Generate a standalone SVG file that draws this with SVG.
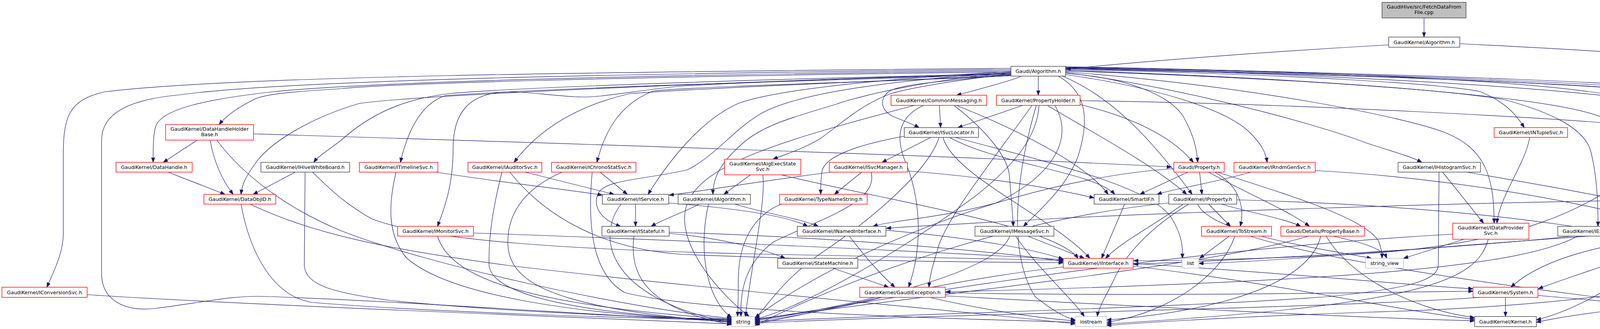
<svg xmlns="http://www.w3.org/2000/svg" width="5247" height="843" viewBox="0 0 5247 843">
<defs>
<marker id="arr" markerWidth="13" markerHeight="10" refX="12" refY="4.5" orient="auto" markerUnits="userSpaceOnUse"><path d="M0,0 L12,4.5 L0,9 z" fill="#191970" stroke="#191970" stroke-width="1"/></marker>
</defs>
<style>
.nd rect{fill:#ffffff;stroke-width:1.4}
.k rect{stroke:#404040}
.r rect{stroke:#ff0000}
.g rect{stroke:#bfbfbf}
.rt rect{fill:#bfbfbf;stroke:#404040}
text{font-family:"DejaVu Sans","Liberation Sans",Arial,sans-serif;font-size:12.8px;text-anchor:middle;fill:#000000}
#edges path{fill:none;stroke:#191970;stroke-width:1.2;marker-end:url(#arr)}
</style>
<rect x="0" y="0" width="5247" height="843" fill="#ffffff"/>
<g id="edges">
<path d="M3645.5,46 L3645.5,95"/>
<path d="M3555,115 C3200,135 2900,160 2729,177"/>
<path d="M3737,112 C4100,130 4450,150 4560,185 C4680,220 4704,240 4704,270 L4704,360 C4704,400 4730,430 4770,455 C4830,485 4880,493 4910,498"/>
<path d="M2588,175 C1500,185 600,195 270,235 C175,255 162,300 162,400 L162,600 C162,650 135,700 120,736"/>
<path d="M2588,178 C1400,190 700,210 460,243 C330,255 260,290 260,360 L260,700 C260,770 320,800 400,790 C520,775 600,755 690,760 C1000,770 1600,812 1873,824"/>
<path d="M2588,181 C1400,195 900,215 700,235 C520,255 420,280 400,320 C392,340 392,380 392,416"/>
<path d="M2588,184 C1500,198 1000,215 875,227 C750,235 680,240 650,255 C610,275 580,295 561,319"/>
<path d="M2588,187 C1900,210 1100,240 920,265 C800,300 700,360 660,410 C630,450 620,470 617,498"/>
<path d="M2588,190 C2000,200 1300,225 1150,240 C1020,255 940,300 875,358 C840,385 815,400 803,416"/>
<path d="M2589,192 C2100,205 1400,225 1140,245 C1080,265 1045,330 1025,416"/>
<path d="M2589,193 C2300,206 1800,225 1612,240 C1480,270 1380,330 1316,416"/>
<path d="M2590,194 C2400,205 1800,220 1673,233 C1590,265 1550,330 1528,416"/>
<path d="M2588,189 C2200,200 1900,212 1750,220 C1620,232 1540,252 1472,248 C1380,242 1330,232 1277,237 C1200,245 1160,290 1160,380 C1160,480 1135,540 1120,580"/>
<path d="M2588,183 C2300,200 2000,225 1890,265 C1800,305 1720,400 1659,498"/>
<path d="M2588,185 C2300,205 2050,235 1950,290 C1880,330 1830,400 1760,435 C1650,460 1560,460 1535,490 C1515,520 1530,560 1589,580"/>
<path d="M2588,187 C2400,200 2200,245 2141,267 C2030,300 1960,320 1910,360 C1850,410 1825,450 1825,498"/>
<path d="M2588,189 C2450,205 2330,225 2280,240 C2200,270 2150,320 2100,355 C2050,385 2010,395 1979,408"/>
<path d="M2588,191 C2450,205 2300,215 2275,235 C2250,255 2255,285 2290,300 C2320,312 2340,320 2353,327"/>
<path d="M2613,196 C2580,210 2500,230 2449,244"/>
<path d="M2658,195 L2658,244"/>
<path d="M2728,188 C2900,200 3000,250 3030,300 C3055,345 3064,380 3066,416"/>
<path d="M2728,191 C3000,230 3150,290 3200,340 C3230,370 3240,390 3244,416"/>
<path d="M2709,195 C2790,240 2785,320 2760,400 C2730,480 2660,540 2620,580"/>
<path d="M2720,195 C2850,250 2950,360 3052,498"/>
<path d="M2728,174 C3200,185 3800,210 4134,248"/>
<path d="M2728,178 C3300,190 3700,215 3790,235 C3850,260 3880,290 3902,327"/>
<path d="M2728,186 C3000,220 3350,310 3500,367 C3570,390 3610,400 3640,416"/>
<path d="M2728,184 C3200,220 3600,300 3700,340 C3800,380 3825,450 3825,572"/>
<path d="M2728,180 C3300,200 3700,230 3850,255 C3980,290 4050,330 4070,380 C4085,430 4091,500 4091,580"/>
<path d="M2728,176 C3400,190 4200,215 4310,245 C4330,300 4270,370 4231,416"/>
<path d="M2728,175 C3500,190 4250,220 4340,250 C4370,290 4350,400 4318,498"/>
<path d="M2728,173 C3600,190 4300,220 4400,245 C4430,270 4436,300 4436,350 L4436,490 C4436,530 4400,560 4345,580"/>
<path d="M2728,172 C3600,188 4350,215 4480,245 C4530,270 4540,310 4540,360 L4540,420 C4540,520 4400,580 4200,650 C4050,700 3990,720 3938,740"/>
<path d="M2728,171 C3800,190 4100,230 4200,260 C4300,300 4350,318 4375,322 C4600,330 4800,330 5000,380 C5150,430 5195,470 5195,540 L5195,690 C5195,760 5000,805 4715,822"/>
<path d="M2728,182 C3300,200 3950,240 4100,300 C4250,340 4380,380 4500,420 C4600,450 4700,480 4732,498"/>
<path d="M2405,270 L2408,327"/>
<path d="M2442,270 C2520,330 2580,400 2584,450 C2588,500 2592,540 2594,580"/>
<path d="M2448,270 C2600,330 2780,420 2837,498"/>
<path d="M2364,270 C2300,300 2290,350 2320,420 C2360,520 2360,640 2326,736"/>
<path d="M2341,270 C2000,360 1800,420 1760,520 C1720,620 1850,760 1918,811"/>
<path d="M2618,270 L2452,327"/>
<path d="M2765,268 C2900,300 3000,350 3055,416"/>
<path d="M2765,258 C3300,265 4000,300 4375,337 C4700,365 4950,400 5100,470 C5230,520 5243,560 5243,620 L5243,700 C5243,780 5000,810 4715,828"/>
<path d="M2681,270 C2780,330 2950,420 3038,498"/>
<path d="M2642,270 C2550,400 2420,560 2400,640 C2385,690 2380,710 2378,736"/>
<path d="M2660,270 C2655,350 2600,420 2500,500 C2300,650 2050,790 1933,818"/>
<path d="M2653,270 C2600,450 2580,650 2650,760 C2700,800 2730,815 2753,820"/>
<path d="M2700,270 C2750,350 2700,450 2550,520 C2400,560 2280,565 2235,580"/>
<path d="M505,359 L418,416"/>
<path d="M538,359 C545,400 560,450 597,498"/>
<path d="M649,343 C1200,360 2500,400 2999,428"/>
<path d="M555,359 C600,420 700,520 875,592 C1100,680 1600,790 1873,816"/>
<path d="M430,441 L576,498"/>
<path d="M756,441 L648,498"/>
<path d="M781,441 L779,680 C782,730 850,750 1000,770 C1300,800 1700,815 1873,818"/>
<path d="M800,441 C840,480 880,520 950,560 C1100,620 1500,640 1900,650 C2300,660 2600,665 2722,667"/>
<path d="M1115,441 C1300,470 1450,485 1542,500"/>
<path d="M1014,441 C995,520 990,600 1040,660 C1150,760 1500,810 1873,820"/>
<path d="M1344,441 L1572,498"/>
<path d="M1285,441 C1265,520 1250,600 1252,680 C1260,760 1500,805 1873,822"/>
<path d="M1305,441 C1400,560 1550,640 1750,652 C2200,670 2550,672 2722,673"/>
<path d="M1536,441 L1606,498"/>
<path d="M1439,441 C1350,480 1300,540 1300,620 C1300,720 1400,790 1873,826"/>
<path d="M1516,441 C1505,560 1510,700 1600,750 C1800,800 2400,815 2753,826"/>
<path d="M1921,448 L1853,498"/>
<path d="M1953,448 C1960,520 1930,640 1908,811"/>
<path d="M2000,448 C2300,520 2700,580 2760,662"/>
<path d="M2383,352 L2258,416"/>
<path d="M2315,349 C2200,370 2110,400 2104,440 C2100,470 2101,485 2101,498"/>
<path d="M2404,352 C2380,430 2250,550 2100,650 C2000,720 1960,790 1933,816"/>
<path d="M2414,352 C2440,450 2700,560 2790,662"/>
<path d="M2431,352 C2550,420 2800,440 2854,498"/>
<path d="M2445,352 C2700,420 2950,480 3000,560 C3030,610 3027,640 3027,662"/>
<path d="M2206,441 L2136,498"/>
<path d="M2129,441 C1900,470 1800,490 1713,500"/>
<path d="M2230,441 C2250,520 2100,560 1980,620 C1900,680 1895,760 1897,811"/>
<path d="M2323,438 C2600,460 2750,495 2801,507"/>
<path d="M2000,523 C1910,560 1890,650 1890,720 C1890,770 1889,795 1888,811"/>
<path d="M1881,523 C1950,545 2050,560 2095,580"/>
<path d="M1790,523 C1750,545 1700,560 1667,580"/>
<path d="M1814,523 C1790,620 1800,760 1873,814"/>
<path d="M1627,523 L1627,580"/>
<path d="M1712,520 C1900,535 2020,555 2068,580"/>
<path d="M1590,523 C1530,600 1540,760 1873,828"/>
<path d="M1713,598 C1850,610 1960,640 2010,662"/>
<path d="M1713,595 C2200,610 2600,650 2722,670"/>
<path d="M1623,605 C1610,700 1650,790 1873,832"/>
<path d="M2132,687 L2275,736"/>
<path d="M2268,590 C2500,610 2650,640 2722,664"/>
<path d="M2174,605 C2210,650 2240,690 2291,736"/>
<path d="M2631,605 L2776,662"/>
<path d="M2600,605 C2650,680 2740,760 2776,811"/>
<path d="M2585,605 C2550,700 2200,780 1933,822"/>
<path d="M2258,762 C2150,790 2000,815 1933,826"/>
<path d="M2420,750 C2900,760 3500,750 3771,746"/>
<path d="M2380,762 C2500,790 2650,815 2753,822"/>
<path d="M2420,758 C3000,790 3500,815 3775,822"/>
<path d="M2901,675 C3300,700 3600,730 3771,740"/>
<path d="M2901,682 C3300,730 3600,800 3775,818"/>
<path d="M2722,684 C2400,720 2100,800 1933,830"/>
<path d="M2879,523 L2820,662"/>
<path d="M3029,523 C2950,580 2870,620 2830,662"/>
<path d="M3043,523 C2950,580 2880,650 2850,720 C2830,760 2812,790 2809,811"/>
<path d="M3094,523 L3150,580"/>
<path d="M3127,523 C3200,545 3290,560 3330,580"/>
<path d="M3166,512 C3800,530 4300,600 4480,700 C4560,760 4600,800 4652,816"/>
<path d="M2992,520 C2600,560 2200,700 1933,834"/>
<path d="M3066,523 C3100,600 3400,640 3511,662"/>
<path d="M3071,441 L3077,498"/>
<path d="M3041,441 L2918,498"/>
<path d="M3110,441 C3180,480 3185,540 3175,580"/>
<path d="M3094,441 C3180,490 3300,540 3352,580"/>
<path d="M3116,441 C3300,500 3500,560 3530,620 C3537,640 3538,650 3538,662"/>
<path d="M3005,432 C2600,460 2150,650 1933,814"/>
<path d="M3412,605 C3480,620 3540,635 3550,662"/>
<path d="M3381,605 C3360,700 3200,790 2833,820"/>
<path d="M3350,605 C3100,680 2500,740 1933,818"/>
<path d="M3395,605 C3450,700 3600,790 3775,814"/>
<path d="M3147,605 L3071,662"/>
<path d="M3161,605 C3130,700 3000,800 2833,826"/>
<path d="M3200,605 C3500,700 4300,790 4652,824"/>
<path d="M3748,613 L3593,662"/>
<path d="M3719,600 C3000,640 2300,760 1933,820"/>
<path d="M3810,613 C3780,720 3650,780 2833,830"/>
<path d="M3693,441 L3798,572"/>
<path d="M3684,441 L3682,680 C3680,720 3600,740 3400,760 C3000,790 2300,805 1933,824"/>
<path d="M3754,441 C4100,500 4450,560 4560,660 C4640,740 4665,780 4668,811"/>
<path d="M3916,352 C3905,420 3840,500 3832,572"/>
<path d="M3203,441 C3100,470 3000,485 2962,498"/>
<path d="M3367,437 C3800,460 4300,560 4450,650 C4560,720 4660,780 4676,811"/>
<path d="M4186,441 C4050,540 3900,620 3500,650 C3200,665 3000,668 2902,668"/>
<path d="M4304,441 C4450,460 4600,480 4685,498"/>
<path d="M4320,432 C4450,470 4620,530 4650,620 C4680,700 4684,770 4684,811"/>
<path d="M4025,605 C3700,640 3100,670 2902,677"/>
<path d="M4039,605 C3900,680 3500,720 2421,748"/>
<path d="M4306,523 L4306,580"/>
<path d="M4401,515 C4500,540 4600,620 4640,720 C4660,770 4692,795 4694,811"/>
<path d="M4211,513 C3700,520 3000,545 2700,560 C2450,575 2330,580 2269,585"/>
<path d="M4253,605 C4100,630 3950,660 3868,736"/>
<path d="M4287,605 C4200,700 4050,790 3933,820"/>
<path d="M4220,595 C3800,620 3300,670 3069,675"/>
<path d="M4380,605 C4420,680 4550,780 4652,820"/>
<path d="M3854,762 L3854,811"/>
<path d="M3790,762 C3400,790 2400,805 1933,828"/>
<path d="M3937,757 C4200,780 4500,805 4652,828"/>
<path d="M4802,523 L4888,580"/>
<path d="M4768,523 C4600,700 4200,780 3500,800 C3200,810 2950,825 2833,834"/>
<path d="M5013,523 L4930,580"/>
<path d="M5025,523 C5000,620 4800,720 4375,769 C4150,790 4000,810 3933,826"/>
<path d="M617,523 C640,650 700,760 800,775 C1100,800 1600,815 1873,820"/>
<path d="M640,523 C800,600 1000,640 1300,680 C1800,740 2500,800 2753,830"/>
<path d="M1120,605 C1150,700 1300,780 1873,818"/>
<path d="M1212,597 C1600,610 2300,640 2722,665"/>
<path d="M223,755 C600,780 1400,810 1873,830"/>
</g>
<g id="n0" class="nd rt"><rect x="3538" y="6" width="215" height="40"/><text x="3645.5" y="22">GaudiHive/src/FetchDataFrom</text><text x="3645.5" y="36">File.cpp</text></g>
<g id="n1" class="nd k"><rect x="3555" y="95" width="182" height="26"/><text x="3646" y="112.5">GaudiKernel/Algorithm.h</text></g>
<g id="n2" class="nd k"><rect x="2588" y="170" width="140" height="25"/><text x="2658" y="187">Gaudi/Algorithm.h</text></g>
<g id="n3" class="nd r"><rect x="2281" y="244" width="245" height="26"/><text x="2403.5" y="261.5">GaudiKernel/CommonMessaging.h</text></g>
<g id="n4" class="nd r"><rect x="2551" y="244" width="214" height="26"/><text x="2658" y="261.5">GaudiKernel/PropertyHolder.h</text></g>
<g id="n5" class="nd r"><rect x="4134" y="244" width="165" height="26"/><text x="4216.5" y="261.5">Gaudi/PluginService.h</text></g>
<g id="n6" class="nd r"><rect x="424" y="319" width="225" height="40"/><text x="536.5" y="335">GaudiKernel/DataHandleHolder</text><text x="536.5" y="349">Base.h</text></g>
<g id="n7" class="nd k"><rect x="2315" y="327" width="190" height="25"/><text x="2410" y="344">GaudiKernel/ISvcLocator.h</text></g>
<g id="n8" class="nd r"><rect x="3825" y="327" width="188" height="25"/><text x="3919" y="344">GaudiKernel/INTupleSvc.h</text></g>
<g id="n9" class="nd r"><rect x="297" y="416" width="195" height="25"/><text x="394.5" y="433">GaudiKernel/DataHandle.h</text></g>
<g id="n10" class="nd k"><rect x="668" y="416" width="227" height="25"/><text x="781.5" y="433">GaudiKernel/IHiveWhiteBoard.h</text></g>
<g id="n11" class="nd r"><rect x="920" y="416" width="201" height="25"/><text x="1020.5" y="433">GaudiKernel/ITimelineSvc.h</text></g>
<g id="n12" class="nd r"><rect x="1198" y="416" width="189" height="25"/><text x="1292.5" y="433">GaudiKernel/IAuditorSvc.h</text></g>
<g id="n13" class="nd r"><rect x="1412" y="416" width="216" height="25"/><text x="1520" y="433">GaudiKernel/IChronoStatSvc.h</text></g>
<g id="n14" class="nd r"><rect x="1855" y="408" width="195" height="40"/><text x="1952.5" y="424">GaudiKernel/IAlgExecState</text><text x="1952.5" y="438">Svc.h</text></g>
<g id="n15" class="nd r"><rect x="2123" y="416" width="200" height="25"/><text x="2223" y="433">GaudiKernel/ISvcManager.h</text></g>
<g id="n16" class="nd r"><rect x="3005" y="416" width="129" height="25"/><text x="3069.5" y="433">Gaudi/Property.h</text></g>
<g id="n17" class="nd r"><rect x="3159" y="416" width="208" height="25"/><text x="3263" y="433">GaudiKernel/IRndmGenSvc.h</text></g>
<g id="n18" class="nd k"><rect x="3579" y="416" width="211" height="25"/><text x="3684.5" y="433">GaudiKernel/IHistogramSvc.h</text></g>
<g id="n19" class="nd k"><rect x="4104" y="416" width="216" height="25"/><text x="4212" y="433">GaudiKernel/IAlgContextSvc.h</text></g>
<g id="n20" class="nd r"><rect x="522" y="498" width="184" height="25"/><text x="614" y="515">GaudiKernel/DataObjID.h</text></g>
<g id="n21" class="nd k"><rect x="1542" y="498" width="170" height="25"/><text x="1627" y="515">GaudiKernel/IService.h</text></g>
<g id="n22" class="nd k"><rect x="1736" y="498" width="185" height="25"/><text x="1828.5" y="515">GaudiKernel/IAlgorithm.h</text></g>
<g id="n23" class="nd r"><rect x="1996" y="498" width="224" height="25"/><text x="2108" y="515">GaudiKernel/TypeNameString.h</text></g>
<g id="n24" class="nd k"><rect x="2801" y="498" width="166" height="25"/><text x="2884" y="515">GaudiKernel/SmartIF.h</text></g>
<g id="n25" class="nd k"><rect x="2992" y="498" width="174" height="25"/><text x="3079" y="515">GaudiKernel/IProperty.h</text></g>
<g id="n26" class="nd r"><rect x="4211" y="498" width="190" height="25"/><text x="4306" y="515">GaudiKernel/ToolHandle.h</text></g>
<g id="n27" class="nd r"><rect x="4679" y="498" width="206" height="25"/><text x="4782" y="515">GaudiKernel/EventContext.h</text></g>
<g id="n28" class="nd k"><rect x="4910" y="498" width="247" height="25"/><text x="5033.5" y="515">GaudiKernel/ThreadLocalContext.h</text></g>
<g id="n29" class="nd r"><rect x="1018" y="580" width="194" height="25"/><text x="1115" y="597">GaudiKernel/IMonitorSvc.h</text></g>
<g id="n30" class="nd k"><rect x="1541" y="580" width="172" height="25"/><text x="1627" y="597">GaudiKernel/IStateful.h</text></g>
<g id="n31" class="nd k"><rect x="2041" y="580" width="227" height="25"/><text x="2154.5" y="597">GaudiKernel/INamedInterface.h</text></g>
<g id="n32" class="nd k"><rect x="2496" y="580" width="202" height="25"/><text x="2597" y="597">GaudiKernel/IMessageSvc.h</text></g>
<g id="n33" class="nd r"><rect x="3076" y="580" width="179" height="25"/><text x="3165.5" y="597">GaudiKernel/ToStream.h</text></g>
<g id="n34" class="nd r"><rect x="3279" y="580" width="214" height="25"/><text x="3386" y="597">Gaudi/Details/PropertyBase.h</text></g>
<g id="n35" class="nd r"><rect x="3719" y="572" width="195" height="41"/><text x="3816.5" y="588">GaudiKernel/IDataProvider</text><text x="3816.5" y="602">Svc.h</text></g>
<g id="n36" class="nd k"><rect x="3988" y="580" width="208" height="25"/><text x="4092" y="597">GaudiKernel/IExceptionSvc.h</text></g>
<g id="n37" class="nd r"><rect x="4220" y="580" width="172" height="25"/><text x="4306" y="597">GaudiKernel/IToolSvc.h</text></g>
<g id="n38" class="nd g"><rect x="4873" y="580" width="71" height="25"/><text x="4908.5" y="597">cstddef</text></g>
<g id="n39" class="nd k"><rect x="1991" y="662" width="205" height="25"/><text x="2093.5" y="679">GaudiKernel/StateMachine.h</text></g>
<g id="n40" class="nd r"><rect x="2722" y="662" width="179" height="25"/><text x="2811.5" y="679">GaudiKernel/IInterface.h</text></g>
<g id="n41" class="nd g"><rect x="3026" y="662" width="43" height="25"/><text x="3047.5" y="679">list</text></g>
<g id="n42" class="nd g"><rect x="3496" y="662" width="97" height="25"/><text x="3544.5" y="679">string_view</text></g>
<g id="n43" class="nd r"><rect x="5" y="736" width="218" height="26"/><text x="114" y="753.5">GaudiKernel/IConversionSvc.h</text></g>
<g id="n44" class="nd r"><rect x="2201" y="736" width="219" height="26"/><text x="2310.5" y="753.5">GaudiKernel/GaudiException.h</text></g>
<g id="n45" class="nd r"><rect x="3771" y="736" width="166" height="26"/><text x="3854" y="753.5">GaudiKernel/System.h</text></g>
<g id="n46" class="nd g"><rect x="1873" y="811" width="59" height="26"/><text x="1902.5" y="828.5">string</text></g>
<g id="n47" class="nd g"><rect x="2753" y="811" width="80" height="26"/><text x="2793" y="828.5">iostream</text></g>
<g id="n48" class="nd k"><rect x="3775" y="811" width="158" height="26"/><text x="3854" y="828.5">GaudiKernel/Kernel.h</text></g>
<g id="n49" class="nd g"><rect x="4652" y="811" width="62" height="26"/><text x="4683" y="828.5">vector</text></g>
</svg>
